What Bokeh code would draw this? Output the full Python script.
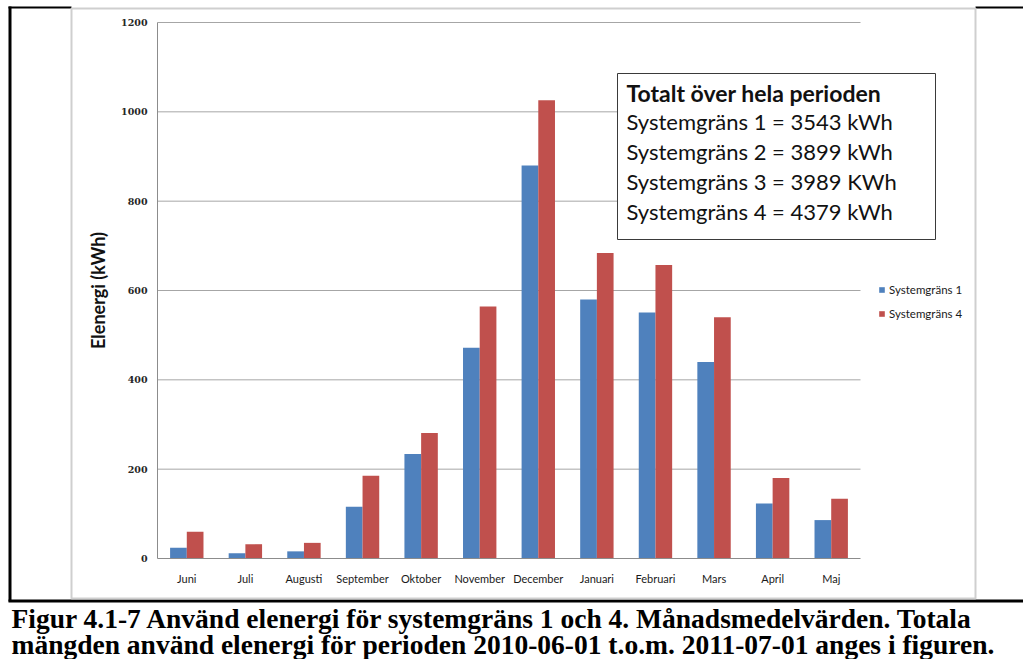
import numpy as np
from bokeh.plotting import figure
from bokeh.models import (Range1d, ColumnDataSource, BoxAnnotation, Label, Legend,
                          LegendItem, FixedTicker, LinearAxis)
from bokeh.transform import dodge
from bokeh.embed import file_html
from bokeh.resources import INLINE

# Monthly mean electricity use (kWh) for two system boundaries
months = ["Juni", "Juli", "Augusti", "September", "Oktober", "November",
          "December", "Januari", "Februari", "Mars", "April", "Maj"]
systemgrans_1 = [24, 12, 16, 116, 234, 472, 880, 580, 551, 440, 123, 86]
systemgrans_4 = [60, 32, 35, 185, 281, 564, 1026, 684, 657, 540, 180, 134]
series_names = ["Systemgräns 1", "Systemgräns 4"]
y_ticks = [0, 200, 400, 600, 800, 1000, 1200]

# Totals over the whole period, shown in the text box
totals_heading = "Totalt över hela perioden"
totals_names = ["Systemgräns 1", "Systemgräns 2", "Systemgräns 3", "Systemgräns 4"]
totals_values = [3543, 3899, 3989, 4379]
totals_units = ["kWh", "kWh", "KWh", "kWh"]

caption_lines = [
    "Figur 4.1-7 Använd elenergi för systemgräns 1 och 4. Månadsmedelvärden. Totala",
    "mängden använd elenergi för perioden 2010-06-01 t.o.m. 2011-07-01 anges i figuren.",
]

BLUE = "#4F81BD"
RED = "#C0504D"
W, H = 1023, 659
# plot area of the chart, in page pixels
FL, FR, FT, FB = 157, 860, 22, 558
Y_MAX = y_ticks[-1]
n = len(months)

# the frame covers the whole page; the ranges are set so that the bar area
# lands on the plot-area rectangle above
ux = (FR - FL) / n           # pixels per category
uy = (FB - FT) / Y_MAX       # pixels per kWh
x_range = Range1d(-FL / ux, (W - FL) / ux)
y_range = Range1d(-(H - FB) / uy, Y_MAX + FT / uy)

centers = np.arange(n) + 0.5
src = ColumnDataSource(dict(xc=centers, s1=systemgrans_1, s4=systemgrans_4))

p = figure(width=W, height=H, output_backend="svg", toolbar_location=None,
           x_range=x_range, y_range=y_range, x_axis_type=None, y_axis_type=None,
           min_border=0)
p.outline_line_color = None
p.background_fill_color = "white"
p.border_fill_color = "white"
p.grid.visible = False


def sx(px):
    return px


def sy(py):
    return H - py


def box(x0, y0, x1, y1, fill=None, line=None, lw=1):
    p.add_layout(BoxAnnotation(
        left=sx(x0), right=sx(x1), top=sy(y0), bottom=sy(y1),
        left_units="screen", right_units="screen",
        top_units="screen", bottom_units="screen",
        fill_color=fill if fill else "white", fill_alpha=1 if fill else 0,
        line_color=line if line else "white", line_width=lw,
        line_alpha=1 if line else 0))


def text(x, y, s, size, font="Lato", style="normal", color="#111111",
         baseline="middle", align="left"):
    p.add_layout(Label(x=sx(x), y=sy(y), x_units="screen", y_units="screen",
                       text=s, text_font=font, text_font_size=size,
                       text_font_style=style, text_color=color,
                       text_baseline=baseline, text_align=align))


# horizontal grid lines across the plot area
grid_y = y_ticks[1:]
p.segment(x0=[0] * len(grid_y), x1=[n] * len(grid_y), y0=grid_y, y1=grid_y,
          line_color="#a6a6a6", line_width=1)

bw = 0.285
r1 = p.vbar(x=dodge("xc", -bw / 2), top="s1", width=bw, source=src,
            fill_color=BLUE, line_color=None)
r4 = p.vbar(x=dodge("xc", bw / 2), top="s4", width=bw, source=src,
            fill_color=RED, line_color=None)

# value axis
yax = LinearAxis(fixed_location=0, bounds=(0, Y_MAX),
                 ticker=FixedTicker(ticks=y_ticks))
yax.axis_line_color = "#8c8c8c"
yax.major_tick_line_color = None
yax.minor_tick_line_color = None
yax.major_tick_out = 0
yax.major_tick_in = 0
yax.major_label_text_font = "DejaVu Serif"
yax.major_label_text_font_style = "bold"
yax.major_label_text_font_size = "9.5px"
yax.major_label_text_color = "#262626"
yax.major_label_standoff = 10
yax.axis_label = "Elenergi (kWh)"
yax.axis_label_text_font = "Lato"
yax.axis_label_text_font_style = "bold"
yax.axis_label_text_font_size = "18px"
yax.axis_label_text_color = "#111111"
yax.axis_label_standoff = 9
p.add_layout(yax, "left")

# category axis
xax = LinearAxis(fixed_location=0, bounds=(0, n),
                 ticker=FixedTicker(ticks=list(centers)))
xax.major_label_overrides = {float(c): m for c, m in zip(centers, months)}
xax.axis_line_color = "#8c8c8c"
xax.major_tick_line_color = None
xax.minor_tick_line_color = None
xax.major_tick_out = 0
xax.major_tick_in = 0
xax.major_label_text_font = "Lato"
xax.major_label_text_font_size = "11px"
xax.major_label_text_color = "#1a1a1a"
xax.major_label_standoff = 13
p.add_layout(xax, "below")

# outer page frame
box(8, 6, 71, 8, fill="black")
box(975, 6, W, 8, fill="black")
box(8, 6, 11, 601, fill="black")
box(8, 599, W, 602, fill="black")
# chart area border
box(71, 8, 975, 598, line="#cfcfcf", lw=2)

# totals text box
box(617, 73, 935, 239, fill="white", line="#3a3a3a", lw=1)
text(626, 92, totals_heading, "23px", style="bold")
for i, (nm, v, u) in enumerate(zip(totals_names, totals_values, totals_units)):
    text(626, 121 + 30 * i, f"{nm} = {v} {u}", "22px")

# legend
legend = Legend(items=[LegendItem(label=series_names[0], renderers=[r1]),
                       LegendItem(label=series_names[1], renderers=[r4])],
                location=(sx(878), sy(320)), glyph_width=7, glyph_height=7,
                label_height=10, spacing=11, padding=0, margin=0,
                label_standoff=4, label_text_font="Lato",
                label_text_font_size="11.5px", label_text_color="#1a1a1a",
                border_line_color=None, background_fill_alpha=0)
p.add_layout(legend)

# caption
text(11, 618, caption_lines[0], "27.5px", font="Liberation Serif", style="bold",
     color="black", baseline="middle")
text(11, 644, caption_lines[1], "27.5px", font="Liberation Serif", style="bold",
     color="black", baseline="middle")

open("out.html", "w").write(file_html(p, INLINE))
